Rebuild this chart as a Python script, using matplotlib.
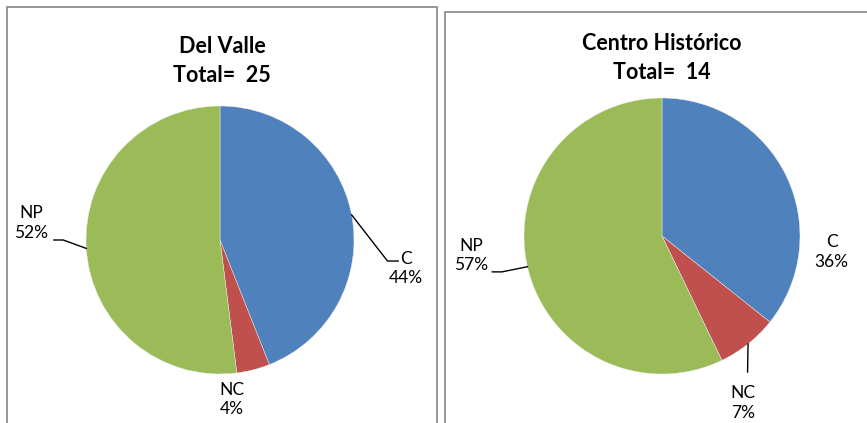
import numpy as np
import matplotlib.pyplot as plt
from matplotlib.patches import Rectangle

plt.rcParams["font.family"] = ["Lato", "DejaVu Sans"]

# datos
categorias = ["C", "NC", "NP"]
colores = ["#4F81BD", "#C0504D", "#9BBB59"]
valle_vals = [11, 1, 13]
centro_vals = [5, 1, 8]
titulos = ["Del Valle", "Centro Histórico"]

W, H = 867, 423


def frac(x, y):
    # pixel (desde arriba) -> fraccion de figura
    return x / W, 1 - y / H


def dibujar_pie(fig, cx, cy, r, vals, etiquetas, lineas):
    ax = fig.add_axes([(cx - r) / W, 1 - (cy + r) / H, 2 * r / W, 2 * r / H])
    wedges, _ = ax.pie(vals, colors=colores, startangle=90, counterclock=False,
                       radius=1, wedgeprops=dict(linewidth=0.3, edgecolor="#f0f0f0"))
    ax.set_xlim(-1, 1)
    ax.set_ylim(-1, 1)
    ax.axis("off")
    total = sum(vals)
    for i, w in enumerate(wedges):
        pct = round(100 * vals[i] / total)
        lx, ly = etiquetas[i]
        ax.text(lx, ly, f"{categorias[i]}\n{pct}%", ha="center", va="center",
                fontsize=12.5, linespacing=1.25, clip_on=False)
        if lineas[i] is not None:
            ang = np.deg2rad((w.theta1 + w.theta2) / 2)
            pts = [(np.cos(ang), np.sin(ang))] + lineas[i]
            xs, ys = zip(*pts)
            ax.plot(xs, ys, color="black", lw=1, clip_on=False)
    return ax


def main():
    fig = plt.figure(figsize=(W / 100, H / 100), dpi=100)

    # marcos de los graficos
    for x0, y0, x1 in [(7, 7, 437), (445, 12, 880)]:
        fx, fy = frac(x0, 440)
        fw = (x1 - x0) / W
        fh = (440 - y0) / H
        fig.patches.append(Rectangle((fx, fy), fw, fh, transform=fig.transFigure,
                                     fill=False, edgecolor="#868686", lw=1.2))

    # Del Valle
    dibujar_pie(fig, 220, 240, 134, valle_vals,
                etiquetas=[(1.39, -0.21), (0.09, -1.19), (-1.41, 0.127)],
                lineas=[[(1.25, -0.157), (1.33, -0.157)], None,
                        [(-1.17, 0.0), (-1.24, 0.0)]])
    tx, ty = frac(222, 61)
    fig.text(tx, ty, f"{titulos[0]}\nTotal=  {sum(valle_vals)}", ha="center",
             va="center", fontsize=15.5, fontweight="bold", linespacing=1.5)

    # Centro Historico
    dibujar_pie(fig, 662, 236, 138, centro_vals,
                etiquetas=[(1.23, -0.116), (0.587, -1.21), (-1.38, -0.14)],
                lineas=[None, [(0.62, -0.986)],
                        [(-1.16, -0.26), (-1.23, -0.26)]])
    tx, ty = frac(662, 58)
    fig.text(tx, ty, f"{titulos[1]}\nTotal=  {sum(centro_vals)}", ha="center",
             va="center", fontsize=15.5, fontweight="bold", linespacing=1.5)

    fig.savefig("out.png", dpi=100)


if __name__ == '__main__':
    main()
